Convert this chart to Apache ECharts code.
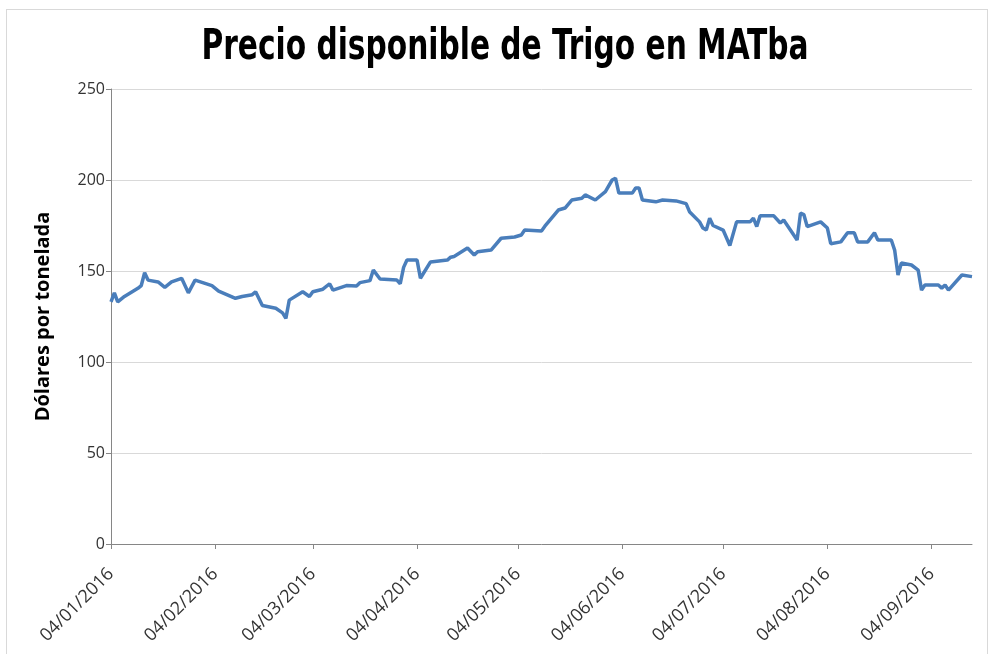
<!DOCTYPE html>
<html>
<head>
<meta charset="utf-8">
<script src="https://cdn.jsdelivr.net/npm/echarts@6/dist/echarts.min.js"></script>
<style>
  html, body { margin: 0; padding: 0; background: #fff; }
  #marco { position: absolute; left: 6px; top: 9px; width: 980px; height: 660px; border: 1px solid #d9d9d9; }
  #chart { position: absolute; left: 0; top: 0; width: 992px; height: 654px; }
</style>
</head>
<body>
<div id="marco"></div>
<div id="chart"></div>
<script>
// precio disponible (US$/t)
let fechas = [
  '2016-01-04','2016-01-05','2016-01-06','2016-01-08','2016-01-12','2016-01-13','2016-01-14','2016-01-15',
  '2016-01-18','2016-01-20','2016-01-22','2016-01-25','2016-01-27','2016-01-29','2016-02-03','2016-02-05',
  '2016-02-10','2016-02-12','2016-02-15','2016-02-16','2016-02-18','2016-02-22','2016-02-24','2016-02-25',
  '2016-02-26','2016-03-01','2016-03-03','2016-03-04','2016-03-07','2016-03-09','2016-03-10','2016-03-14',
  '2016-03-17','2016-03-18','2016-03-21','2016-03-22','2016-03-24','2016-03-29','2016-03-30','2016-03-31',
  '2016-04-01','2016-04-04','2016-04-05','2016-04-08','2016-04-13','2016-04-14','2016-04-15','2016-04-19',
  '2016-04-21','2016-04-22','2016-04-26','2016-04-29','2016-05-03','2016-05-05','2016-05-06','2016-05-11',
  '2016-05-12','2016-05-16','2016-05-18','2016-05-20','2016-05-23','2016-05-24','2016-05-27','2016-05-30',
  '2016-06-01','2016-06-02','2016-06-03','2016-06-07','2016-06-08','2016-06-09','2016-06-10','2016-06-14',
  '2016-06-16','2016-06-20','2016-06-23','2016-06-24','2016-06-27','2016-06-28','2016-06-29','2016-06-30',
  '2016-07-01','2016-07-04','2016-07-06','2016-07-08','2016-07-12','2016-07-13','2016-07-14','2016-07-15',
  '2016-07-19','2016-07-21','2016-07-22','2016-07-26','2016-07-27','2016-07-28','2016-07-29','2016-08-02',
  '2016-08-04','2016-08-05','2016-08-08','2016-08-10','2016-08-12','2016-08-13','2016-08-16','2016-08-18',
  '2016-08-19','2016-08-23','2016-08-24','2016-08-25','2016-08-26','2016-08-29','2016-08-31','2016-09-01',
  '2016-09-02','2016-09-06','2016-09-07','2016-09-08','2016-09-09','2016-09-13','2016-09-16'
];
let precios = [
  133, 138, 133, 136, 140.5, 142, 149, 145,
  144, 141, 144, 146, 138, 145, 142, 139,
  135, 136, 137, 138.6, 131, 129.5, 127, 124,
  134, 138.6, 136, 138.6, 140, 143, 139.5, 142,
  141.8, 143.6, 144.7, 150.5, 145.6, 145, 143, 152,
  156, 156, 146, 155, 156, 157.6, 158, 162.6,
  158.8, 160.6, 161.5, 168, 168.7, 169.8, 172.5, 172,
  174.6, 183.5, 184.6, 189, 190, 191.8, 189, 193.6,
  200, 201, 192.8, 192.8, 195.6, 195.6, 189, 188,
  189, 188.5, 187, 182.6, 177, 173.6, 172.5, 179,
  175, 172.5, 164, 177, 177, 179, 174.4, 180.4,
  180.4, 176.4, 178, 167, 181.8, 181, 174.4, 177,
  173.6, 165, 166, 171, 171, 166, 166, 171,
  167, 167, 161.5, 147.8, 154.4, 153.3, 150.5, 139.5,
  142.3, 142.3, 140.6, 142.3, 139.5, 147.8, 146.9
];
let marcasX = ['2016-01-04','2016-02-04','2016-03-04','2016-04-04','2016-05-04','2016-06-04','2016-07-04','2016-08-04','2016-09-04'];
let marcasY = [0, 50, 100, 150, 200, 250];

function dia(s) {
  let p = s.split('-');
  return Date.UTC(+p[0], +p[1] - 1, +p[2]);
}
function dosDig(n) { return (n < 10 ? '0' : '') + n; }

let serie = fechas.map((f, i) => [dia(f), precios[i]]);
let ticks = marcasX.map(dia);

let chart = echarts.init(document.getElementById('chart'));
let option = {
  animation: false,
  // titulo como texto estirado en vertical (la fuente original es muy condensada)
  graphic: [{
    type: 'text',
    x: 505,
    y: 48,
    scaleY: 1.3,
    style: {
      text: 'Precio disponible de Trigo en MATba',
      align: 'center',
      verticalAlign: 'middle',
      fontFamily: 'DejaVu Sans Condensed',
      fontWeight: 'bold',
      fontSize: 33,
      fill: '#000'
    }
  }],
  grid: { left: 111, right: 20, top: 89, bottom: 110 },
  xAxis: {
    type: 'value',
    min: dia('2016-01-04'),
    max: dia('2016-09-16'),
    axisLine: { lineStyle: { color: '#868686', width: 1 } },
    axisTick: { show: true, customValues: ticks, length: 5, lineStyle: { color: '#868686' } },
    splitLine: { show: false },
    axisLabel: {
      customValues: ticks,
      rotate: 45,
      margin: 27,
      fontFamily: 'Open Sans',
      fontSize: 18,
      color: '#333',
      formatter: function (v) {
        let d = new Date(v);
        return dosDig(d.getUTCDate()) + '/' + dosDig(d.getUTCMonth() + 1) + '/' + d.getUTCFullYear();
      }
    }
  },
  yAxis: {
    type: 'value',
    min: marcasY[0],
    max: marcasY[marcasY.length - 1],
    interval: 50,
    name: 'Dólares por tonelada',
    nameLocation: 'middle',
    nameGap: 58,
    nameTextStyle: { fontFamily: 'Open Sans', fontWeight: 'bold', fontSize: 20, color: '#000' },
    axisLine: { show: true, lineStyle: { color: '#868686', width: 1 } },
    axisTick: { show: true, length: 5, lineStyle: { color: '#868686' } },
    splitLine: { lineStyle: { color: '#d9d9d9', width: 1 } },
    axisLabel: { fontFamily: 'Open Sans', fontSize: 16, color: '#333', margin: 6 }
  },
  series: [{
    type: 'line',
    data: serie,
    showSymbol: false,
    lineStyle: { color: '#4a7ebb', width: 3.5 },
    itemStyle: { color: '#4a7ebb' }
  }]
};
chart.setOption(option);
</script>
</body>
</html>
